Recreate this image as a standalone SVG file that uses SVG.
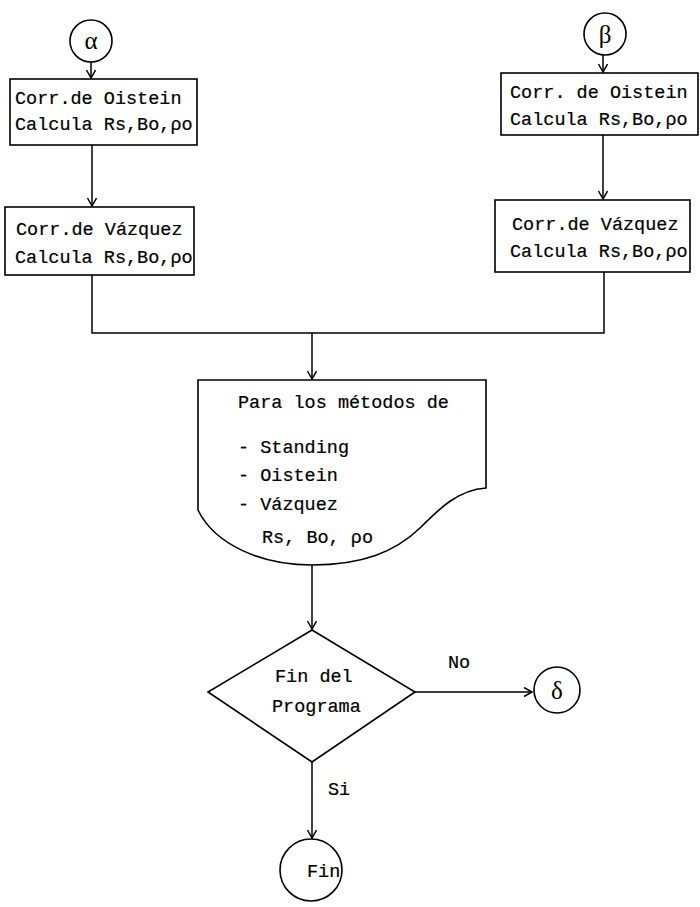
<svg xmlns="http://www.w3.org/2000/svg" width="700" height="907" viewBox="0 0 700 907">
<defs>
<marker id="ah" markerWidth="12" markerHeight="12" refX="9" refY="5" orient="auto" markerUnits="userSpaceOnUse">
<path d="M1,0.5 L9,5 L1,9.5" fill="none" stroke="#000" stroke-width="1.5"/>
</marker>
<style>
.s{fill:#fff;stroke:#000;stroke-width:1.6}
.c{fill:none;stroke:#000;stroke-width:1.5}
.t{font-family:"Liberation Mono","DejaVu Sans Mono",monospace;font-size:18.5px;fill:#000;stroke:#000;stroke-width:0.2}
.g{font-family:"Liberation Serif","DejaVu Serif",serif;font-size:25px;fill:#000;text-anchor:middle}
</style>
</defs>
<rect width="700" height="907" fill="#fff"/>
<g id="connectors">
<line class="c" x1="91" y1="62" x2="91" y2="78" marker-end="url(#ah)"/>
<line class="c" x1="92" y1="145" x2="92" y2="206" marker-end="url(#ah)"/>
<polyline class="c" points="92,275 92,333 604,333 604,272"/>
<line class="c" x1="603" y1="55" x2="603" y2="72" marker-end="url(#ah)"/>
<line class="c" x1="603" y1="135" x2="603" y2="199" marker-end="url(#ah)"/>
<line class="c" x1="312" y1="333" x2="312" y2="379" marker-end="url(#ah)"/>
<line class="c" x1="312" y1="565" x2="312" y2="629" marker-end="url(#ah)"/>
<line class="c" x1="415" y1="692" x2="532" y2="692" marker-end="url(#ah)"/>
<line class="c" x1="312" y1="762" x2="312" y2="838" marker-end="url(#ah)"/>
<text class="t" x="448" y="668">No</text>
<text class="t" x="328" y="795">Si</text>
</g>
<g id="alpha">
<circle class="s" cx="91" cy="41" r="21"/>
<text class="g" x="91" y="49">α</text>
</g>
<g id="beta">
<circle class="s" cx="605" cy="34" r="21"/>
<text class="g" x="605" y="43">β</text>
</g>
<g id="box1">
<rect class="s" x="10" y="79" width="187" height="66"/>
<text class="t" x="15" y="104">Corr.de Oistein</text>
<text class="t" x="15" y="130">Calcula Rs,Bo,ρo</text>
</g>
<g id="box2">
<rect class="s" x="5" y="207" width="189" height="68"/>
<text class="t" x="16" y="235">Corr.de Vázquez</text>
<text class="t" x="15" y="263">Calcula Rs,Bo,ρo</text>
</g>
<g id="box3">
<rect class="s" x="501" y="73" width="197" height="62"/>
<text class="t" x="510" y="98">Corr. de Oistein</text>
<text class="t" x="510" y="125">Calcula Rs,Bo,ρo</text>
</g>
<g id="box4">
<rect class="s" x="495" y="200" width="195" height="72"/>
<text class="t" x="512" y="230">Corr.de Vázquez</text>
<text class="t" x="510" y="257">Calcula Rs,Bo,ρo</text>
</g>
<g id="document">
<path class="s" d="M198,380 L486,380 L486,488 C458,490 440,508 420,528 C395,552 362,565 312,565 C262,565 215,545 198,510 Z"/>
<text class="t" x="238" y="408">Para los métodos de</text>
<text class="t" x="238" y="453">- Standing</text>
<text class="t" x="238" y="481">- Oistein</text>
<text class="t" x="238" y="510">- Vázquez</text>
<text class="t" x="262" y="543">Rs, Bo, ρo</text>
</g>
<g id="decision">
<polygon class="s" points="312,630 415,692 312,762 208,692"/>
<text class="t" x="275" y="682">Fin del</text>
<text class="t" x="272" y="712">Programa</text>
</g>
<g id="delta">
<circle class="s" cx="557" cy="690" r="23"/>
<text class="g" x="557" y="699">δ</text>
</g>
<g id="fin">
<circle class="s" cx="311" cy="870" r="31"/>
<text class="t" x="307" y="877">Fin</text>
</g>
</svg>
